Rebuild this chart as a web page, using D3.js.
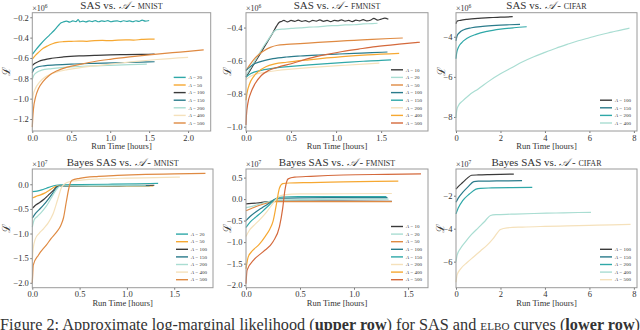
<!DOCTYPE html>
<html>
<head>
<meta charset="utf-8">
<script src="https://cdn.jsdelivr.net/npm/d3@7"></script>
<style>
  body { margin: 0; background: #fff; }
  svg { display: block; }
  text { font-family: "Liberation Serif", "DejaVu Serif", serif; fill: #333; }
</style>
</head>
<body>
<script>
// ---- data: [hours, value] ----

// SAS vs A - MNIST (x1e6)
var sasMnistA = [20, 50, 100, 150, 200, 400, 500];
var sasMnistRuns = [
  [[0,-0.565],[0.05,-0.515],[0.1,-0.47],[0.16,-0.42],[0.22,-0.375],[0.28,-0.33],[0.33,-0.285],[0.37,-0.255],[0.40,-0.245],[0.44,-0.238],[0.48,-0.248],[0.52,-0.236],[0.56,-0.243],[0.59,-0.222],[0.61,-0.245],[0.65,-0.237],[0.69,-0.246],[0.73,-0.235],[0.77,-0.242],[0.81,-0.232],[0.85,-0.244],[0.89,-0.236],[0.93,-0.241],[0.97,-0.233],[1.01,-0.244],[1.05,-0.238],[1.09,-0.235],[1.13,-0.243],[1.17,-0.234],[1.21,-0.24],[1.25,-0.236],[1.29,-0.244],[1.33,-0.234],[1.37,-0.241],[1.41,-0.228],[1.45,-0.238],[1.5,-0.232]],
  [[0,-0.612],[0.04,-0.575],[0.08,-0.545],[0.14,-0.505],[0.2,-0.48],[0.26,-0.46],[0.32,-0.447],[0.4,-0.44],[0.5,-0.437],[0.6,-0.434],[0.7,-0.436],[0.8,-0.43],[0.9,-0.428],[1.0,-0.43],[1.1,-0.424],[1.2,-0.422],[1.3,-0.424],[1.4,-0.418],[1.5,-0.414],[1.57,-0.415]],
  [[0,-0.675],[0.03,-0.655],[0.08,-0.635],[0.15,-0.618],[0.25,-0.603],[0.4,-0.59],[0.6,-0.58],[0.8,-0.575],[1.0,-0.57],[1.2,-0.567],[1.4,-0.565],[1.57,-0.563]],
  [[0,-0.745],[0.02,-0.71],[0.06,-0.69],[0.15,-0.677],[0.3,-0.668],[0.5,-0.66],[0.8,-0.653],[1.1,-0.647],[1.4,-0.641],[1.57,-0.637]],
  [[0,-0.81],[0.02,-0.77],[0.06,-0.74],[0.12,-0.72],[0.25,-0.705],[0.45,-0.69],[0.7,-0.68],[1.0,-0.672],[1.25,-0.666],[1.47,-0.661]],
  [[0,-1.05],[0.01,-0.97],[0.04,-0.9],[0.09,-0.84],[0.16,-0.79],[0.25,-0.755],[0.35,-0.73],[0.45,-0.715],[0.6,-0.697],[0.87,-0.672],[1.1,-0.652],[1.3,-0.636],[1.6,-0.615],[2.0,-0.594]],
  [[0,-1.28],[0.005,-1.2],[0.015,-1.1],[0.04,-0.99],[0.08,-0.9],[0.14,-0.83],[0.22,-0.77],[0.32,-0.725],[0.45,-0.69],[0.63,-0.66],[0.8,-0.635],[1.0,-0.613],[1.25,-0.59],[1.5,-0.57],[1.8,-0.548],[2.0,-0.535],[2.2,-0.52]]
];

// SAS vs A - FMNIST (x1e6)
var sasFmnistA = [10, 20, 50, 100, 150, 200, 400, 500];
var sasFmnistRuns = [
  [[0,-0.7],[0.05,-0.655],[0.1,-0.61],[0.15,-0.565],[0.2,-0.52],[0.25,-0.475],[0.3,-0.43],[0.34,-0.39],[0.37,-0.368],[0.4,-0.362],[0.42,-0.356],[0.46,-0.366],[0.5,-0.357],[0.54,-0.362],[0.58,-0.355],[0.62,-0.363],[0.66,-0.358],[0.7,-0.366],[0.74,-0.356],[0.78,-0.361],[0.82,-0.354],[0.86,-0.362],[0.9,-0.357],[0.94,-0.364],[0.98,-0.356],[1.02,-0.36],[1.06,-0.353],[1.1,-0.361],[1.14,-0.357],[1.18,-0.364],[1.22,-0.355],[1.26,-0.359],[1.3,-0.352],[1.34,-0.36],[1.38,-0.356],[1.42,-0.344],[1.46,-0.355],[1.5,-0.349],[1.54,-0.343],[1.58,-0.35]],
  [[0,-0.69],[0.05,-0.645],[0.1,-0.6],[0.15,-0.555],[0.2,-0.51],[0.25,-0.47],[0.3,-0.43],[0.34,-0.412],[0.4,-0.41],[0.5,-0.405],[0.6,-0.402],[0.7,-0.397],[0.8,-0.396],[0.9,-0.39],[1.0,-0.388],[1.1,-0.384],[1.2,-0.383],[1.3,-0.378],[1.4,-0.376],[1.46,-0.374]],
  [[0,-0.66],[0.05,-0.62],[0.1,-0.585],[0.15,-0.56],[0.2,-0.54],[0.27,-0.52],[0.35,-0.507],[0.45,-0.502],[0.6,-0.497],[0.8,-0.49],[1.0,-0.483],[1.2,-0.477],[1.4,-0.471],[1.6,-0.466],[1.74,-0.463]],
  [[0,-0.66],[0.05,-0.635],[0.1,-0.618],[0.2,-0.6],[0.3,-0.588],[0.45,-0.578],[0.6,-0.572],[0.8,-0.566],[1.0,-0.561],[1.2,-0.556],[1.4,-0.552],[1.57,-0.548]],
  [[0,-0.7],[0.05,-0.68],[0.1,-0.668],[0.2,-0.655],[0.35,-0.643],[0.5,-0.635],[0.7,-0.626],[0.9,-0.618],[1.1,-0.611],[1.3,-0.604],[1.5,-0.598],[1.61,-0.596]],
  [[0,-0.715],[0.05,-0.695],[0.1,-0.683],[0.2,-0.672],[0.35,-0.66],[0.5,-0.652],[0.7,-0.643],[0.9,-0.635],[1.1,-0.628],[1.3,-0.621],[1.48,-0.615]],
  [[0,-0.84],[0.01,-0.8],[0.04,-0.74],[0.08,-0.7],[0.14,-0.665],[0.22,-0.637],[0.32,-0.62],[0.45,-0.61],[0.7,-0.595],[1.07,-0.576],[1.35,-0.565],[1.7,-0.556]],
  [[0,-0.99],[0.005,-0.93],[0.02,-0.86],[0.05,-0.8],[0.1,-0.74],[0.17,-0.69],[0.25,-0.66],[0.35,-0.64],[0.52,-0.616],[0.7,-0.586],[0.9,-0.562],[1.07,-0.545],[1.25,-0.53],[1.44,-0.515],[1.7,-0.5],[1.93,-0.489]]
];

// SAS vs A - CIFAR (x1e6)
var sasCifarA = [100, 150, 200, 400];
var sasCifarRuns = [
  [[0,-3.35],[0.05,-3.22],[0.2,-3.18],[0.5,-3.13],[1.0,-3.08],[1.5,-3.05],[2.0,-3.02],[2.55,-3.0]],
  [[0,-4.2],[0.05,-3.95],[0.15,-3.8],[0.35,-3.65],[0.7,-3.55],[1.2,-3.48],[1.8,-3.43],[2.4,-3.4],[2.88,-3.38]],
  [[0,-5.1],[0.03,-4.8],[0.1,-4.55],[0.25,-4.3],[0.5,-4.08],[0.9,-3.88],[1.4,-3.73],[2.0,-3.62],[2.6,-3.55],[3.18,-3.5]],
  [[0,-8.05],[0.03,-7.7],[0.1,-7.45],[0.3,-7.2],[0.6,-6.9],[1.0,-6.6],[1.5,-6.2],[2.0,-5.85],[2.5,-5.55],[3.0,-5.25],[3.5,-5.0],[4.0,-4.78],[4.5,-4.57],[5.0,-4.38],[5.5,-4.2],[6.0,-4.05],[6.5,-3.9],[7.0,-3.77],[7.5,-3.64],[7.8,-3.57]]
];

// Bayes SAS vs A - MNIST (x1e7)
var bayesMnistA = [20, 50, 100, 150, 200, 400, 500];
var bayesMnistRuns = [
  [[0,-0.15],[0.05,-0.14],[0.1,-0.115],[0.15,-0.08],[0.2,-0.045],[0.25,-0.02],[0.3,-0.01],[0.5,-0.005],[0.8,0.0],[1.1,0.01],[1.33,0.02]],
  [[0,-0.28],[0.04,-0.245],[0.08,-0.22],[0.13,-0.18],[0.18,-0.12],[0.23,-0.06],[0.27,-0.035],[0.4,-0.033],[0.8,-0.033],[1.28,-0.033]],
  [[0,-0.49],[0.03,-0.43],[0.07,-0.38],[0.12,-0.31],[0.17,-0.22],[0.22,-0.13],[0.26,-0.05],[0.3,-0.035],[0.6,-0.03],[1.0,-0.025],[1.29,-0.02]],
  [[0,-0.69],[0.03,-0.6],[0.07,-0.52],[0.12,-0.42],[0.17,-0.3],[0.22,-0.17],[0.26,-0.06],[0.3,-0.035],[0.7,-0.03],[1.24,-0.03]],
  [[0,-0.87],[0.02,-0.72],[0.05,-0.66],[0.1,-0.56],[0.15,-0.44],[0.2,-0.28],[0.25,-0.12],[0.29,-0.04],[0.35,-0.03],[0.8,-0.025],[1.2,-0.02]],
  [[0,-1.55],[0.01,-1.3],[0.03,-1.12],[0.07,-1.0],[0.12,-0.9],[0.17,-0.78],[0.22,-0.6],[0.27,-0.3],[0.31,-0.06],[0.36,0.03],[0.45,0.07],[0.72,0.11],[1.0,0.125],[1.3,0.135],[1.56,0.145]],
  [[0,-2.0],[0.005,-1.8],[0.01,-1.64],[0.064,-1.44],[0.15,-1.23],[0.2,-1.1],[0.26,-0.96],[0.3,-0.84],[0.33,-0.68],[0.36,-0.35],[0.39,-0.05],[0.42,0.08],[0.5,0.12],[0.7,0.16],[0.9,0.18],[1.2,0.2],[1.5,0.21],[1.83,0.22]]
];

// Bayes SAS vs A - FMNIST (x1e7)
var bayesFmnistA = [10, 20, 50, 100, 150, 200, 400, 500];
var bayesFmnistRuns = [
  [[0,-0.11],[0.1,-0.09],[0.2,-0.06],[0.28,-0.045],[0.5,-0.045],[0.9,-0.045],[1.35,-0.05]],
  [[0,-0.2],[0.08,-0.15],[0.16,-0.09],[0.24,-0.04],[0.3,-0.02],[0.6,-0.01],[1.0,0.0],[1.32,0.0]],
  [[0,-0.27],[0.05,-0.22],[0.12,-0.15],[0.2,-0.09],[0.27,-0.06],[0.35,-0.06],[0.8,-0.06],[1.35,-0.06]],
  [[0,-0.5],[0.04,-0.4],[0.09,-0.3],[0.15,-0.2],[0.21,-0.1],[0.26,-0.01],[0.3,0.02],[0.5,0.03],[0.9,0.035],[1.31,0.035]],
  [[0,-0.66],[0.04,-0.53],[0.09,-0.42],[0.15,-0.29],[0.21,-0.15],[0.26,-0.03],[0.3,0.04],[0.4,0.055],[0.8,0.06],[1.3,0.06]],
  [[0,-0.87],[0.03,-0.73],[0.07,-0.62],[0.13,-0.47],[0.19,-0.3],[0.25,-0.1],[0.3,0.05],[0.35,0.1],[0.5,0.12],[0.9,0.125],[1.35,0.13]],
  [[0,-1.62],[0.02,-1.35],[0.06,-1.2],[0.12,-1.06],[0.18,-0.86],[0.22,-0.7],[0.25,-0.52],[0.28,-0.14],[0.31,0.26],[0.34,0.36],[0.4,0.375],[0.6,0.385],[0.9,0.4],[1.2,0.41],[1.41,0.42]],
  [[0,-1.97],[0.01,-1.65],[0.07,-1.42],[0.16,-1.22],[0.25,-0.99],[0.31,-0.64],[0.34,-0.21],[0.36,0.2],[0.39,0.47],[0.45,0.51],[0.6,0.53],[0.9,0.56],[1.3,0.575],[1.62,0.585]]
];

// Bayes SAS vs A - CIFAR (x1e7)
var bayesCifarA = [100, 150, 200, 400, 500];
var bayesCifarRuns = [
  [[0,-1.6],[0.1,-1.45],[0.3,-1.2],[0.5,-0.95],[0.7,-0.76],[1.0,-0.74],[1.5,-0.72],[2.0,-0.705],[2.6,-0.69]],
  [[0,-2.4],[0.1,-2.15],[0.3,-1.8],[0.55,-1.45],[0.8,-1.15],[1.0,-1.12],[1.5,-1.11],[2.2,-1.1],[2.97,-1.09]],
  [[0,-3.1],[0.1,-2.75],[0.3,-2.3],[0.6,-1.9],[0.9,-1.6],[1.1,-1.55],[1.6,-1.53],[2.5,-1.51],[3.43,-1.5]],
  [[0,-6.0],[0.05,-5.6],[0.2,-5.2],[0.45,-4.75],[0.7,-4.35],[1.0,-3.95],[1.3,-3.55],[1.55,-3.2],[1.8,-3.15],[2.5,-3.12],[3.5,-3.08],[4.5,-3.05],[5.5,-3.02],[6.07,-3.01]],
  [[0,-7.25],[0.05,-6.8],[0.2,-6.45],[0.5,-6.05],[0.8,-5.7],[1.1,-5.35],[1.4,-5.0],[1.7,-4.55],[2.0,-4.05],[2.3,-3.95],[3.0,-3.9],[4.0,-3.86],[5.0,-3.83],[6.0,-3.8],[7.0,-3.77],[7.85,-3.74]]
];

// tick values
var hourTicksShort = [0, 0.5, 1, 1.5];
var hourTicksLong = [0, 0.5, 1, 1.5, 2];
var hourTicksCifar = [0, 2, 4, 6, 8];
var sasMnistYTicks = [-1.2, -1.0, -0.8, -0.6, -0.4, -0.2];
var sasFmnistYTicks = [-1.0, -0.8, -0.6, -0.4];
var cifarYTicks = [-8, -6, -4, -2];
var bayesYTicks = [-2.0, -1.5, -1.0, -0.5, 0.0, 0.5];

// ---- styles ----
var col = {
  dark: "#3a3a3a", dteal: "#2a7b8b", teal: "#2fa8a8", mint: "#a9ddd2",
  beige: "#f5e1bb", orange: "#f6a832", brown: "#df8a42", red: "#d4693c"
};

var width = 640, height = 330;

var svg = d3.select("body").append("svg")
  .attr("width", width)
  .attr("height", height);

var panels = [
  {name: "mnist", pre: "SAS", exp: "6", A: sasMnistA, runs: sasMnistRuns,
   box: [32.3, 210.7, 12.7, 131], xDom: [0, 2.29], yDom: [-1.318, -0.155],
   xTicks: hourTicksLong, yTicks: sasMnistYTicks, fmt: ".1f", yLabX: 6,
   colors: [col.teal, col.orange, col.dark, col.dteal, col.mint, col.beige, col.brown]},
  {name: "fmnist", pre: "SAS", exp: "6", A: sasFmnistA, runs: sasFmnistRuns,
   box: [246, 428, 12.7, 131], xDom: [0, 2.02], yDom: [-1.026, -0.31],
   xTicks: hourTicksShort, yTicks: sasFmnistYTicks, fmt: ".1f", yLabX: 227,
   colors: [col.dark, col.mint, col.brown, col.dteal, col.teal, col.beige, col.orange, col.red]},
  {name: "cifar", pre: "SAS", exp: "6", A: sasCifarA, runs: sasCifarRuns,
   box: [456, 637, 12.7, 131], xDom: [0, 8.14], yDom: [-8.7, -2.8],
   xTicks: hourTicksCifar, yTicks: cifarYTicks, fmt: ".0f", yLabX: 441,
   colors: [col.dark, col.dteal, col.teal, col.mint]},
  {name: "mnist", pre: "Bayes SAS", exp: "7", A: bayesMnistA, runs: bayesMnistRuns,
   box: [32.3, 213, 169, 287.7], xDom: [0, 1.91], yDom: [-2.1, 0.31],
   xTicks: hourTicksShort, yTicks: bayesYTicks, fmt: ".1f", yLabX: 6,
   colors: [col.teal, col.orange, col.dark, col.dteal, col.mint, col.beige, col.brown]},
  {name: "fmnist", pre: "Bayes SAS", exp: "7", A: bayesFmnistA, runs: bayesFmnistRuns,
   box: [246, 428, 169, 287.7], xDom: [0, 1.685], yDom: [-2.06, 0.70],
   xTicks: hourTicksShort, yTicks: bayesYTicks, fmt: ".1f", yLabX: 227,
   colors: [col.dark, col.mint, col.brown, col.dteal, col.teal, col.beige, col.orange, col.red]},
  {name: "cifar", pre: "Bayes SAS", exp: "7", A: bayesCifarA, runs: bayesCifarRuns,
   box: [456, 637, 169, 287.7], xDom: [0, 8.14], yDom: [-7.58, -0.38],
   xTicks: hourTicksCifar, yTicks: cifarYTicks, fmt: ".0f", yLabX: 440,
   colors: [col.dark, col.dteal, col.teal, col.mint, col.beige]}
];

panels.forEach(drawPanel);

function drawPanel(p) {
  var left = p.box[0], right = p.box[1], top = p.box[2], bottom = p.box[3];
  var g = svg.append("g");

  var xScale = d3.scaleLinear().domain(p.xDom).range([left, right]);
  var yScale = d3.scaleLinear().domain(p.yDom).range([bottom, top]);

  var ticksY = p.yTicks.filter(function(v) { return v >= p.yDom[0] && v <= p.yDom[1]; });

  var yAxis = g.append("g")
    .attr("transform", `translate(${left},0)`)
    .call(d3.axisLeft(yScale).tickValues(ticksY).tickSize(2).tickPadding(1.5)
      .tickFormat(d3.format(p.fmt)));
  var xAxis = g.append("g")
    .attr("transform", `translate(0,${bottom})`)
    .call(d3.axisBottom(xScale).tickValues(p.xTicks).tickSize(2).tickPadding(1.5)
      .tickFormat(d3.format(p.fmt)));
  [xAxis, yAxis].forEach(function(a) {
    a.select(".domain").remove();
    a.selectAll("line").attr("stroke", "#777");
    a.selectAll("text").attr("font-size", 8.5).attr("fill", "#333");
  });

  var valueline = d3.line()
    .curve(d3.curveMonotoneX)
    .x(function(d) { return xScale(d[0]); })
    .y(function(d) { return yScale(d[1]); });

  p.runs.forEach(function(run, i) {
    g.append("path")
      .datum(run)
      .attr("fill", "none")
      .attr("stroke", p.colors[i])
      .attr("stroke-width", 1.2)
      .attr("stroke-linejoin", "round")
      .attr("d", valueline);
  });

  // frame
  g.append("rect")
    .attr("x", left).attr("y", top)
    .attr("width", right - left).attr("height", bottom - top)
    .attr("fill", "none").attr("stroke", "#9a9a9a").attr("stroke-width", 1);

  // legend, bottom right
  var rowH = 7.6;
  var n = p.A.length;
  p.A.forEach(function(a, i) {
    var yy = bottom - 8 - (n - 1 - i) * rowH;
    g.append("line")
      .attr("x1", right - 37).attr("x2", right - 25)
      .attr("y1", yy).attr("y2", yy)
      .attr("stroke", p.colors[i]).attr("stroke-width", 1.4);
    var t = g.append("text")
      .attr("x", right - 22).attr("y", yy + 1.7)
      .attr("font-size", 5);
    t.append("tspan").attr("font-style", "italic").text("A");
    t.append("tspan").text(" = " + a);
  });

  // title
  var title = g.append("text")
    .attr("x", (left + right) / 2).attr("y", top - 3.5)
    .attr("text-anchor", "middle")
    .attr("font-size", 11).attr("fill", "#3a3a3a");
  title.append("tspan").text(p.pre + " vs. ");
  title.append("tspan").attr("font-family", "DejaVu Serif, serif").attr("font-style", "italic").text("\u{1D49C}");
  title.append("tspan").text(" - ");
  title.append("tspan").style("font-variant", "small-caps").text(p.name);

  // multiplier
  var mult = g.append("text")
    .attr("x", left).attr("y", top - 1.6)
    .attr("font-size", 8).attr("fill", "#444");
  mult.append("tspan").text("\u00d710");
  mult.append("tspan").attr("font-size", 5.5).attr("dy", -3.3).text(p.exp);

  // y label
  g.append("text")
    .attr("transform", `translate(${p.yLabX},${(top + bottom) / 2}) rotate(-90)`)
    .attr("text-anchor", "middle").attr("dy", "0.35em")
    .attr("font-size", 11).attr("fill", "#222")
    .text("\u2112");

  // x label
  g.append("text")
    .attr("x", (left + right) / 2).attr("y", bottom + 18)
    .attr("text-anchor", "middle")
    .attr("font-size", 8.5).attr("fill", "#333")
    .text("Run Time [hours]");
}

// caption (cut by the bottom edge)
var cap = svg.append("text")
  .attr("x", 0).attr("y", 330)
  .attr("font-size", 16).attr("fill", "#111")
  .attr("textLength", 640).attr("lengthAdjust", "spacingAndGlyphs");
cap.append("tspan").text("Figure 2: Approximate log-marginal likelihood (");
cap.append("tspan").attr("font-weight", "bold").text("upper row");
cap.append("tspan").text(") for SAS and ");
cap.append("tspan").style("font-variant", "small-caps").text("elbo");
cap.append("tspan").text(" curves (");
cap.append("tspan").attr("font-weight", "bold").text("lower row");
cap.append("tspan").text(")");
</script>
</body>
</html>
